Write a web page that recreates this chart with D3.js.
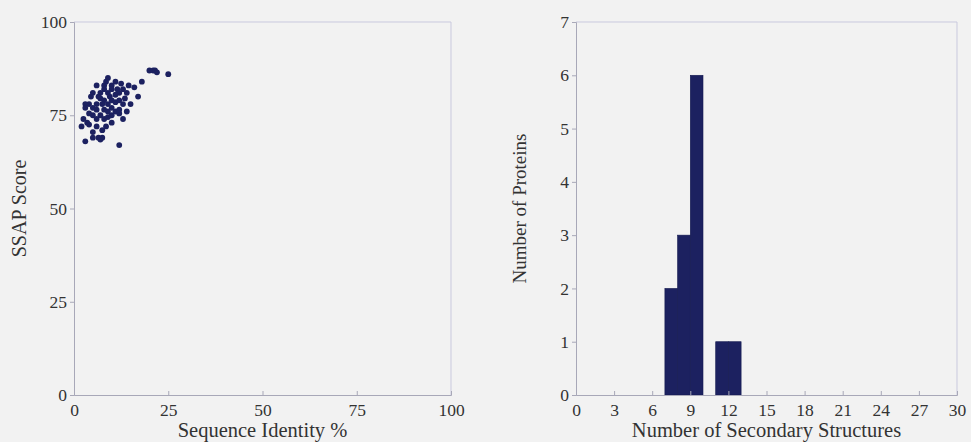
<!DOCTYPE html>
<html>
<head>
<meta charset="utf-8">
<script src="https://cdn.jsdelivr.net/npm/d3@7"></script>
<style>
  html, body { margin: 0; padding: 0; background: #f2f2f2; }
  svg { display: block; }
  svg text { font-family: "Liberation Serif", "Times New Roman", Times, "DejaVu Serif", serif; fill: #333; }
</style>
</head>
<body>
<svg id="chart" width="971" height="442"></svg>
<script>
// Scatter: sequence identity (%) vs SSAP score for each protein pair
const identity = [20, 21, 21.5, 22, 25, 18, 17, 15, 16, 14.5,
  9, 8.5, 12.5, 11, 10, 13, 14, 12, 11, 10,
  9, 8, 7, 5, 6.5, 10, 11, 12, 13, 9,
  8, 7.5, 6, 4, 3, 3, 5, 6, 8, 9,
  10, 11, 12, 13, 7, 5, 4, 2.5, 3.5, 6,
  8, 9, 10, 4, 2, 6, 7.5, 8.5, 5, 3,
  5, 6.5, 7, 7.5, 12, 10, 11.5, 13.5, 9.5, 7,
  4.5, 6, 8, 12, 14];
const ssap = [87, 87, 87, 86.5, 86, 84, 80, 78, 82.5, 83,
  85, 84, 83.5, 84, 83, 82, 81, 81, 80.5, 82,
  81, 82, 81, 81, 80, 79, 78.5, 79, 78, 78,
  79, 78, 78, 78, 78, 77, 77, 76.5, 76.5, 76,
  77, 76, 75.5, 74, 75, 75, 75.5, 74, 73, 74,
  74, 74.5, 73, 72.5, 72, 72, 71, 72, 70.5, 68,
  69, 69, 68.5, 69, 67, 75, 82, 79.5, 80, 79.5,
  80, 83, 83, 76.5, 76];
const scatterXTicks = [0, 25, 50, 75, 100];
const scatterYTicks = [0, 25, 50, 75, 100];

// Histogram: number of secondary structures per protein (bins of width 1)
const binStart = [7, 8, 9, 11, 12];
const binEnd = [8, 9, 10, 12, 13];
const binCount = [2, 3, 6, 1, 1];
const histXTicks = [0, 3, 6, 9, 12, 15, 18, 21, 24, 27, 30];
const histYTicks = [0, 1, 2, 3, 4, 5, 6, 7];

const navy = "#1c2160";
const svg = d3.select("#chart");

function panel(left, right, top, bottom, xDomain, yDomain, xTicks, yTicks, xTitle, yTitle, yTitleX, yTitleSize) {
  const x = d3.scaleLinear().domain(xDomain).range([left, right]);
  const y = d3.scaleLinear().domain(yDomain).range([bottom, top]);
  const g = svg.append("g");

  // frame: top and right edges
  g.append("path")
    .attr("d", `M${left},${top}H${right}V${bottom}`)
    .attr("fill", "none").attr("stroke", "#c9c9de").attr("stroke-width", 1);

  const marks = g.append("g").attr("class", "marks");

  const yAxis = g.append("g").attr("transform", `translate(${left},0)`)
    .call(d3.axisLeft(y).tickValues(yTicks).tickSize(4).tickPadding(3).tickFormat(d3.format("d")));
  const xAxis = g.append("g").attr("transform", `translate(0,${bottom})`)
    .call(d3.axisBottom(x).tickValues(xTicks).tickSize(-4).tickPadding(9).tickFormat(d3.format("d")));
  [yAxis, xAxis].forEach(a => {
    a.attr("font-family", null).attr("font-size", null);
    a.select(".domain").attr("stroke", "#a8a8b8");
    a.selectAll(".tick line").attr("stroke", "#a8a8b8");
    a.selectAll(".tick text").style("font-size", "17.5px").attr("fill", "#333");
  });

  g.append("text").attr("x", (left + right) / 2).attr("y", 437)
    .attr("text-anchor", "middle").style("font-size", "20.5px").text(xTitle);
  g.append("text").attr("transform", `translate(${yTitleX},${(top + bottom) / 2}) rotate(-90)`)
    .attr("text-anchor", "middle").style("font-size", yTitleSize + "px").text(yTitle);
  return { x, y, marks };
}

// Left panel: scatter
const p1 = panel(74, 451, 22, 395, [0, 100], [0, 100], scatterXTicks, scatterYTicks,
  "Sequence Identity %", "SSAP Score", 26, 20);
p1.marks.selectAll("circle")
  .data(d3.range(identity.length))
  .join("circle")
  .attr("cx", i => p1.x(identity[i]))
  .attr("cy", i => p1.y(ssap[i]))
  .attr("r", 2.9)
  .attr("fill", navy);

// Right panel: histogram
const p2 = panel(576, 957, 22, 395, [0, 30], [0, 7], histXTicks, histYTicks,
  "Number of Secondary Structures", "Number of Proteins", 526, 19);
p2.marks.selectAll("rect")
  .data(d3.range(binCount.length))
  .join("rect")
  .attr("x", i => p2.x(binStart[i]))
  .attr("width", i => p2.x(binEnd[i]) - p2.x(binStart[i]))
  .attr("y", i => p2.y(binCount[i]))
  .attr("height", i => p2.y(0) - p2.y(binCount[i]))
  .attr("fill", navy)
  .attr("stroke", "#141a50").attr("stroke-width", 0.6);
</script>
</body>
</html>
